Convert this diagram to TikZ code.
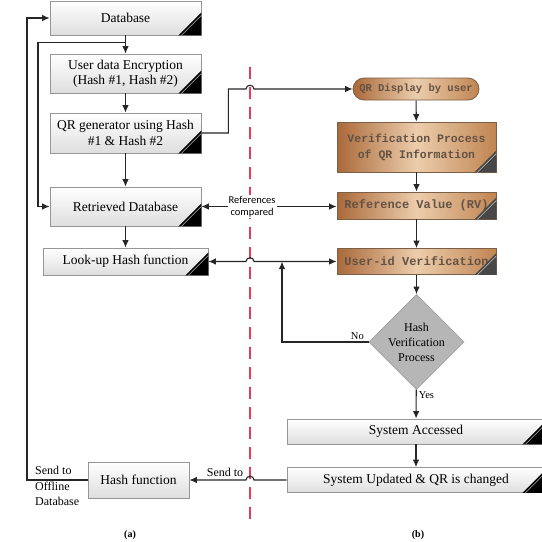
\documentclass[tikz,border=0pt]{standalone}
\usepackage{fontspec}
\setmainfont{Liberation Serif}
\newfontfamily\monof{Liberation Mono}
\newfontfamily\sansf{Carlito}
\usetikzlibrary{arrows.meta,shapes.geometric}
\definecolor{gbd}{RGB}{150,150,150}
\definecolor{gbot}{RGB}{222,222,222}
\definecolor{brD}{RGB}{170,105,58}
\definecolor{brL}{RGB}{236,205,172}
\definecolor{brM}{RGB}{192,132,82}
\definecolor{brtxt}{RGB}{100,82,68}
\definecolor{brdraw}{RGB}{125,95,72}
\definecolor{redd}{RGB}{228,62,92}
\definecolor{dia}{RGB}{182,182,182}
\begin{document}
\begin{tikzpicture}[x=1pt,y=-1pt,
  line/.style={line width=1.1pt, draw=black!85},
  arr/.style={line, -{Latex[length=7.5pt,width=6.5pt]}},
  darr/.style={line, {Latex[length=7.5pt,width=6.5pt]}-{Latex[length=7.5pt,width=6.5pt]}},
  gbox/.style={draw=gbd, line width=0.8pt, top color=white, bottom color=gbot, inner sep=0pt, align=center, font=\fontsize{13.5}{15.5}\selectfont},
  bbox/.style={draw=brdraw, line width=0.8pt, left color=brD, right color=brM, middle color=brL, inner sep=0pt, align=center, text=brtxt, font=\monof\bfseries\fontsize{12}{15}\selectfont},
  lbl/.style={inner sep=1pt, font=\fontsize{12}{15.5}\selectfont},
]
\clip (0,0) rectangle (542,542);
\fill[white] (0,0) rectangle (542,542);

% red dashed separator
\coordinate (redtop) at (250,67);
\coordinate (redbot) at (250,520);
\draw[redd, line width=1.3pt, dash pattern=on 12pt off 8pt] (redtop) -- (redbot);

% left column
\node[gbox, minimum width=151pt, minimum height=34pt] (db) at (125.5,18) {Database};
\node[gbox, minimum width=151pt, minimum height=39pt] (enc) at (125.5,73.5) {User data Encryption\\(Hash \#1, Hash \#2)};
\node[gbox, minimum width=151pt, minimum height=40pt] (qrg) at (125.5,133) {QR generator using Hash\\\#1 \& Hash \#2};
\node[gbox, minimum width=151pt, minimum height=39pt] (ret) at (125.5,206.5) {Retrieved Database};
\node[gbox, minimum width=165pt, minimum height=27pt] (look) at (125.5,261.5) {Look-up Hash function};
\node[gbox, minimum width=101pt, minimum height=36pt] (hf) at (138.5,480) {Hash function};

% right column
\node[bbox, rounded corners=11pt, minimum width=126pt, minimum height=22pt, font=\monof\bfseries\fontsize{10.5}{12}\selectfont] (qrd) at (416,89) {QR Display by user};
\node[bbox, minimum width=159pt, minimum height=50pt, font=\monof\bfseries\fontsize{11.5}{16}\selectfont] (vp) at (416.5,147) {Verification Process\\of QR Information};
\node[bbox, minimum width=159pt, minimum height=27pt] (rv) at (416.5,205.5) {Reference Value (RV)};
\node[bbox, minimum width=159pt, minimum height=26pt] (uid) at (416.5,261.5) {User-id Verification};
\node[diamond, aspect=1, draw={rgb,255:red,160;green,160;blue,160}, line width=0.6pt, fill=dia, minimum width=87pt, minimum height=87pt, inner sep=0pt, align=center, font=\fontsize{12}{15}\selectfont] (hv) at (416.5,342) {Hash\\Verification\\Process};
\node[gbox, minimum width=258pt, minimum height=25pt] (sa) at (416,431.5) {System Accessed};
\node[gbox, minimum width=258pt, minimum height=25pt] (su) at (416,480) {System Updated \& QR is changed};

% corner triangles
\foreach \n in {db,enc,qrg,ret,look,sa,su}{
  \fill[black] (\n.south east) -- ++(-23,0) -- ++(23,-23) -- cycle;
  \draw[gray!60, line width=0.6pt] ([xshift=-20pt]\n.south east) -- ++(20,-20);
}
\foreach \n in {vp,rv,uid}{
  \fill[black!72] (\n.south east) -- ++(-22,0) -- ++(22,-22) -- cycle;
  \draw[gray!45, line width=0.6pt] ([xshift=-19pt]\n.south east) -- ++(19,-19);
}

% helper coordinates
\coordinate (bx) at (38,0);
\coordinate (lx) at (27,0);
\coordinate (nx) at (282,0);
\coordinate (j1) at ([yshift=-7pt]db.south);
\coordinate (ja) at (qrd.west -| redtop);
\coordinate (jb) at (look.east -| redtop);
\coordinate (jc) at (su.west -| redtop);

% left connectors
\draw[arr] (db) -- (enc);
\draw[arr] (j1) -- (j1 -| bx) |- (ret.west);
\draw[arr] (enc) -- (qrg);
\draw[arr] (qrg) -- (ret);
\draw[arr] (ret) -- (look);
\draw[arr] (hf.west) -- (hf.west -| lx) |- (db.west);

% QR generator to QR display
\draw[arr] (qrg.east) -- ++(27,0) |- ([xshift=-4pt]ja) .. controls +(0,-5) and +(0,-5) .. ([xshift=4pt]ja) -- (qrd.west);

% right column connectors
\draw[arr] (qrd) -- (vp);
\draw[arr] (vp) -- (rv);
\draw[arr] (rv) -- (uid);
\draw[arr] (uid) -- (hv);
\draw[arr] (hv) -- node[pos=0.2, right=1pt, inner sep=1pt, font=\fontsize{10.5}{12}\selectfont] {Yes} (sa);
\draw[arr] (sa) -- (su);

% references compared
\draw[darr] (ret.east) -- node[pos=0.375, fill=white, inner sep=1pt, align=center, font=\sansf\fontsize{10.5}{12}\selectfont] {References\\compared} (ret.east -| rv.west);

% look-up <-> user-id
\draw[darr] (look.east) -- ([xshift=-4pt]jb) .. controls +(0,-5) and +(0,-5) .. ([xshift=4pt]jb) -- (look.east -| uid.west);

% No branch
\draw[arr] (hv.west) -- node[pos=0.13, above=1pt, inner sep=1pt, font=\fontsize{10.5}{12}\selectfont] {No} (hv.west -| nx) -- (nx |- look.east);

% send to hash function
\draw[arr] (su.west) -- ([xshift=4pt]jc) .. controls +(0,-5) and +(0,-5) .. ([xshift=-4pt]jc) -- (hf.east);
\node[lbl, anchor=south] (sendto) at (225,478) {Send to};
\node[lbl, anchor=north west, align=left] (offl) at (34,465) {Send to\\Offline\\Database};

% captions
\node[font=\bfseries\fontsize{10}{12}\selectfont] (capa) at (130,535) {(a)};
\node[font=\bfseries\fontsize{10}{12}\selectfont] (capb) at (418,535) {(b)};
\end{tikzpicture}
\end{document}
